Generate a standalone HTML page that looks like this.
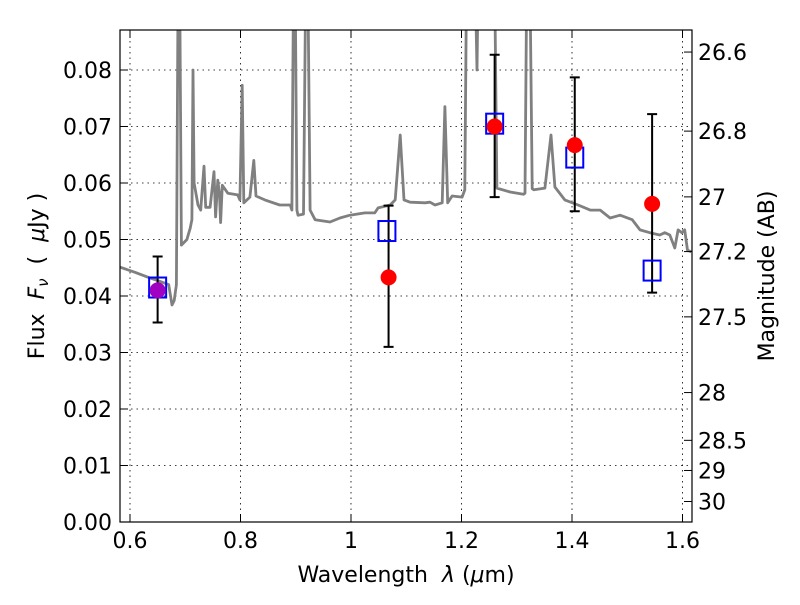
<!DOCTYPE html>
<html><head><meta charset="utf-8"><style>
body{margin:0;background:#fff;}
svg text{font-family:"DejaVu Sans","Liberation Sans",sans-serif;}
</style></head><body>
<svg id="chart" width="800" height="600" xmlns="http://www.w3.org/2000/svg">
<rect width="800" height="600" fill="#fff"/>
<g id="grid"></g>
<clipPath id="clip"><rect x="120" y="30" width="572" height="492"/></clipPath>
<g id="spec" clip-path="url(#clip)"></g>
<g id="marks"></g>
<rect x="120" y="30" width="572" height="492" fill="none" stroke="#000" stroke-width="1.2"/>
<g id="axes"></g>
<text x="406" y="582" font-size="22" text-anchor="middle" xml:space="preserve">Wavelength  <tspan font-style="italic">λ</tspan> (<tspan font-style="italic">μ</tspan>m)</text>
<text transform="translate(44,276) rotate(-90)" font-size="22" text-anchor="middle" xml:space="preserve">Flux  <tspan font-style="italic">F</tspan><tspan font-style="italic" font-size="15" dy="4">ν</tspan><tspan dy="-4">  (  </tspan><tspan font-style="italic">μ</tspan>Jy )</text>
<text transform="translate(774,276) rotate(-90)" font-size="22" text-anchor="middle">Magnitude (AB)</text>
</svg>
<script>
const specLam=[0.582,0.609,0.636,0.657,0.670,0.676,0.680,0.684,0.687,0.690,0.693,0.703,0.709,0.712,0.714,0.716,0.723,0.728,0.734,0.737,0.745,0.752,0.755,0.759,0.762,0.764,0.767,0.777,0.795,0.799,0.803,0.806,0.817,0.824,0.828,0.844,0.871,0.890,0.893,0.896,0.899,0.902,0.904,0.914,0.918,0.922,0.926,0.935,0.962,0.980,0.998,1.025,1.043,1.049,1.071,1.080,1.089,1.096,1.107,1.134,1.143,1.152,1.165,1.170,1.175,1.183,1.201,1.206,1.209,1.212,1.225,1.228,1.230,1.233,1.245,1.260,1.264,1.288,1.312,1.315,1.318,1.324,1.328,1.331,1.351,1.362,1.369,1.387,1.411,1.433,1.451,1.469,1.487,1.509,1.523,1.541,1.559,1.568,1.577,1.586,1.592,1.599,1.604,1.609,1.616];
const specFlux=[0.0451,0.0442,0.0432,0.0425,0.0420,0.0384,0.0392,0.0420,0.095,0.095,0.049,0.050,0.052,0.0535,0.080,0.060,0.0561,0.0552,0.063,0.0557,0.0557,0.062,0.0540,0.0605,0.0580,0.0530,0.0596,0.0582,0.0579,0.0570,0.0773,0.0565,0.0575,0.064,0.0577,0.0570,0.0561,0.0561,0.0552,0.095,0.095,0.0552,0.0543,0.0545,0.095,0.095,0.0552,0.0535,0.0531,0.0538,0.0543,0.0547,0.0547,0.0556,0.0561,0.0570,0.0685,0.0570,0.0566,0.0565,0.0566,0.0561,0.0565,0.0735,0.0565,0.0577,0.0575,0.0588,0.095,0.095,0.095,0.080,0.095,0.095,0.095,0.095,0.0591,0.0584,0.0580,0.0582,0.095,0.095,0.0590,0.0588,0.0591,0.0685,0.0593,0.0570,0.0561,0.0552,0.0552,0.0538,0.0543,0.0535,0.0517,0.0512,0.0508,0.0512,0.0508,0.0485,0.0517,0.0512,0.0517,0.0481,0.0478];
const photLam=[0.650,1.068,1.260,1.405,1.545];
const photFlux=[0.0410,0.0433,0.0700,0.0667,0.0563];
const errLo=[0.0353,0.0310,0.0575,0.0550,0.0406];
const errHi=[0.0470,0.0560,0.0827,0.0787,0.0722];
const modelLam=[0.650,1.065,1.260,1.405,1.545];
const modelFlux=[0.0415,0.0515,0.0705,0.0645,0.0445];
const xTicks=[0.6,0.8,1.0,1.2,1.4,1.6];
const xTickLabels=["0.6","0.8","1","1.2","1.4","1.6"];
const yTicks=[0,0.01,0.02,0.03,0.04,0.05,0.06,0.07,0.08];
const yTickLabels=["0.00","0.01","0.02","0.03","0.04","0.05","0.06","0.07","0.08"];
const magTicks=[26.6,26.8,27,27.2,27.5,28,28.5,29,30];
const magTickLabels=["26.6","26.8","27","27.2","27.5","28","28.5","29","30"];

const NS="http://www.w3.org/2000/svg";
const X=v=>130+(v-0.6)*552.5;
const Y=v=>522-v*5650;
const magY=m=>Y(Math.pow(10,(23.9-m)/2.5));
function mk(tag,attrs,parent){const e=document.createElementNS(NS,tag);for(const k in attrs)e.setAttribute(k,attrs[k]);document.getElementById(parent).appendChild(e);return e;}

xTicks.forEach((t,i)=>{
 const x=X(t);
 const g=mk('line',{x1:x,x2:x,y1:30,y2:522,stroke:'#000','stroke-width':0.8,'stroke-dasharray':'1.5,4'},'grid');
 
 
 mk('line',{x1:x,x2:x,y1:522,y2:514,stroke:'#000'},'axes');
 mk('line',{x1:x,x2:x,y1:30,y2:38,stroke:'#000'},'axes');
 const l=mk('text',{x:x,y:548,'font-size':22,'text-anchor':'middle'},'axes');
 l.textContent=xTickLabels[i];
 
 
});
yTicks.forEach((t,i)=>{
 const y=Y(t);
 const g=mk('line',{x1:120,x2:692,y1:y,y2:y,stroke:'#000','stroke-width':0.8,'stroke-dasharray':'1.5,4'},'grid');
 
 
 mk('line',{x1:120,x2:128,y1:y,y2:y,stroke:'#000'},'axes');
 const l=mk('text',{x:112,y:y+8,'font-size':22,'text-anchor':'end'},'axes');
 l.textContent=yTickLabels[i];
 
 
});
magTicks.forEach((m,i)=>{
 const y=magY(m);
 mk('line',{x1:684,x2:692,y1:y,y2:y,stroke:'#000'},'axes');
 const l=mk('text',{x:698,y:y+8,'font-size':22},'axes');
 l.textContent=magTickLabels[i];
 
 
});
let d='';
specLam.forEach((l,i)=>{d+=(i?'L':'M')+X(l).toFixed(1)+','+Y(specFlux[i]).toFixed(1);});
const sp=mk('path',{d:d,fill:'none',stroke:'#808080','stroke-width':2.8,'stroke-linejoin':'round'},'spec');


photLam.forEach((l,i)=>{
 const x=X(l);
 const e=mk('path',{d:`M${x},${Y(errLo[i])}V${Y(errHi[i])}M${x-5},${Y(errLo[i])}H${x+5}M${x-5},${Y(errHi[i])}H${x+5}`,stroke:'#000','stroke-width':2,fill:'none'},'marks');
 
 
});
modelLam.forEach((l,i)=>{
 const s=mk('rect',{x:X(l)-8.5,y:Y(modelFlux[i])-10,width:17,height:20,fill:'none',stroke:'#0000ff','stroke-width':2},'marks');
 
 
});
photLam.forEach((l,i)=>{
 const c=mk('circle',{cx:X(l),cy:Y(photFlux[i]),r:8,fill:i===0?'#a000c0':'#ff0000'},'marks');
 
 
});
</script>
</body></html>
